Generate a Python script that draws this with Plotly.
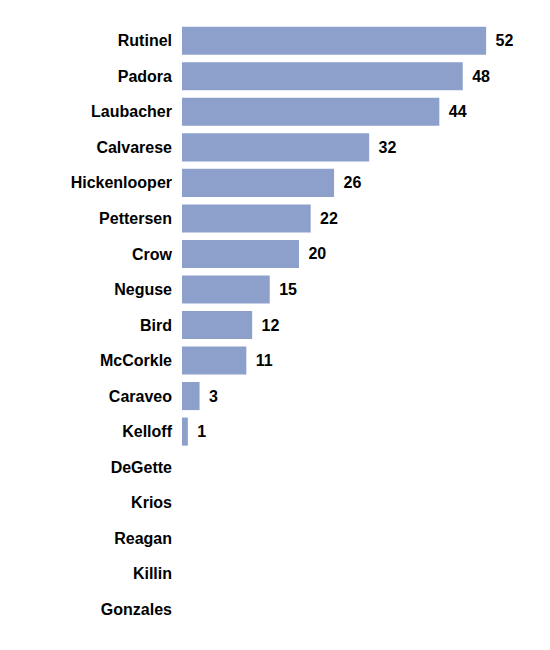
import plotly.graph_objects as go

names = ["Rutinel", "Padora", "Laubacher", "Calvarese", "Hickenlooper", "Pettersen",
         "Crow", "Neguse", "Bird", "McCorkle", "Caraveo", "Kelloff", "DeGette",
         "Krios", "Reagan", "Killin", "Gonzales"]
values = [52, 48, 44, 32, 26, 22, 20, 15, 12, 11, 3, 1, 0, 0, 0, 0, 0]

labels = ["\u2009\u2009" + str(v) if v > 0 else "" for v in values]

fig = go.Figure(go.Bar(
    x=values,
    y=names,
    orientation="h",
    marker=dict(color="#8da0cb", line=dict(width=0)),
    text=labels,
    textposition="outside",
    textfont=dict(family="Liberation Sans, Arial, sans-serif", size=16, color="#000000", weight="bold"),
    cliponaxis=False,
    hoverinfo="skip",
))

fig.update_layout(
    width=550,
    height=650,
    margin=dict(l=174, r=28, t=15, b=31),
    paper_bgcolor="white",
    plot_bgcolor="white",
    bargap=0.21,
    showlegend=False,
    font=dict(family="Liberation Sans, Arial, sans-serif", size=16, color="#000000"),
)
fig.update_xaxes(range=[0, 59.5], visible=False, fixedrange=True)
fig.update_yaxes(
    autorange="reversed",
    showgrid=False,
    zeroline=False,
    showline=False,
    ticks="",
    ticklabelstandoff=9,
    tickfont=dict(family="Liberation Sans, Arial, sans-serif", size=16, color="#000000", weight="bold"),
    fixedrange=True,
)

fig.write_html("out.html")
